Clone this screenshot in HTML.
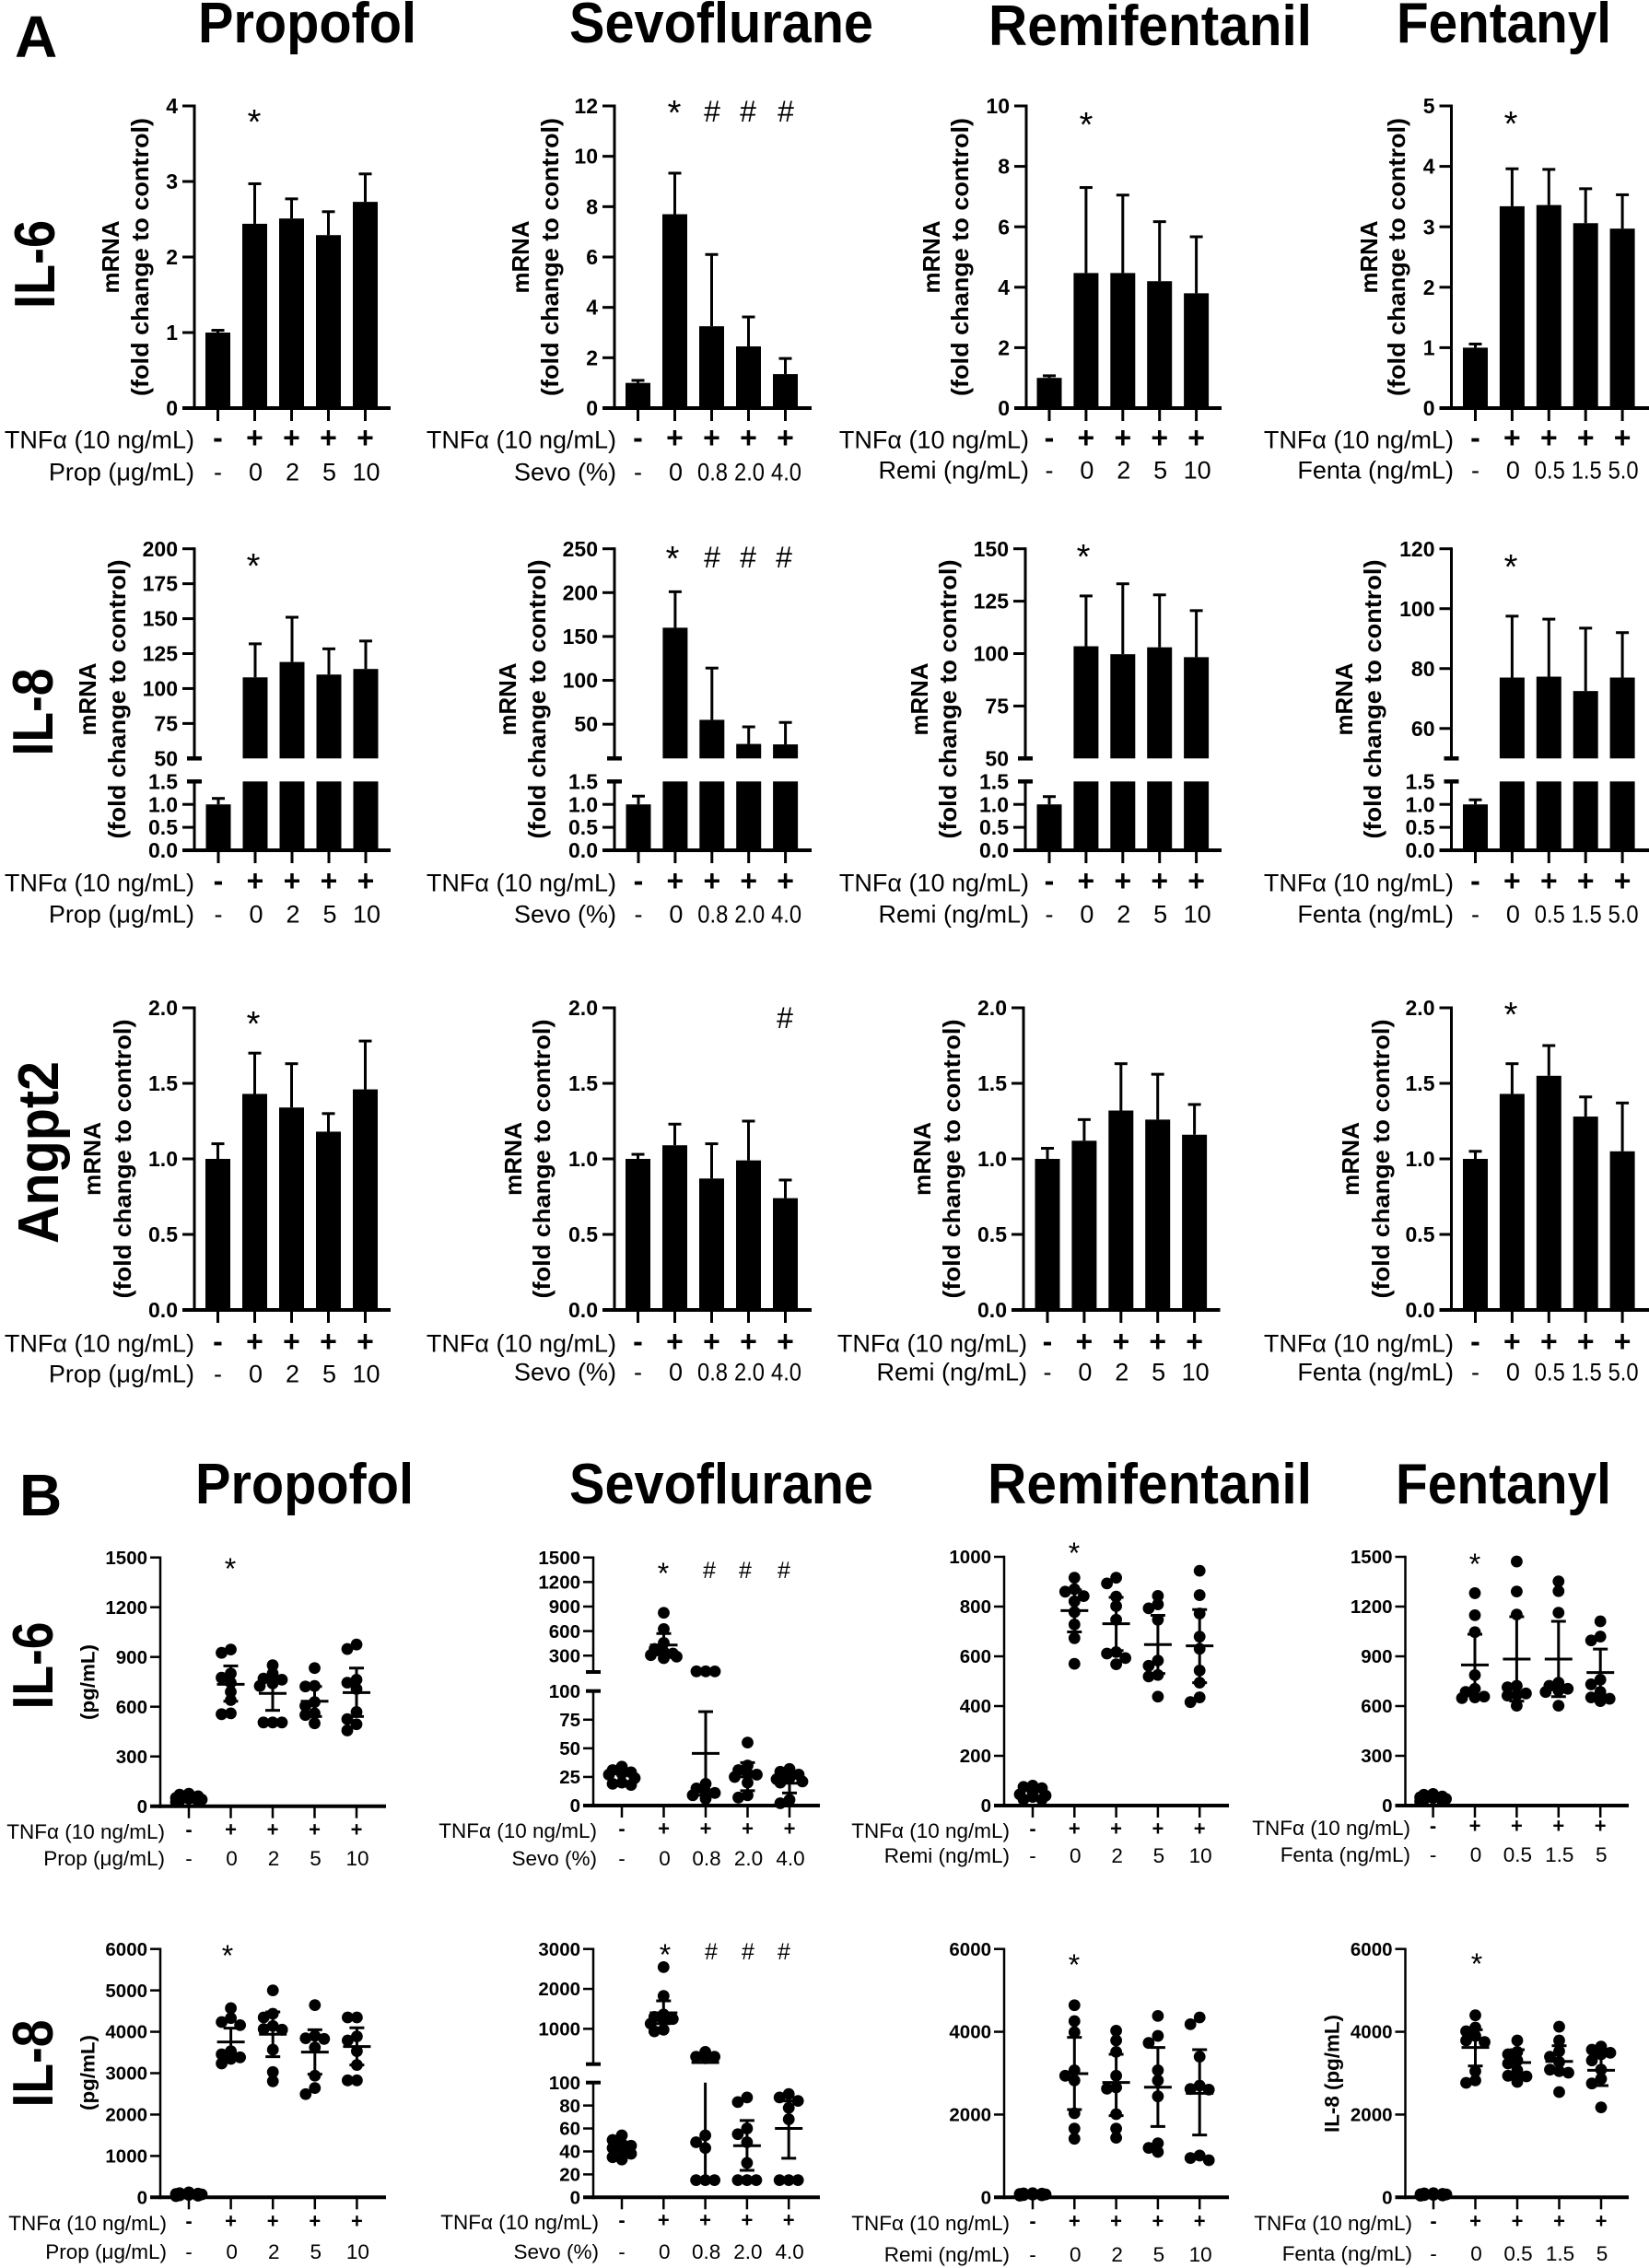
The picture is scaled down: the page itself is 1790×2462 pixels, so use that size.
<!DOCTYPE html>
<html lang="en">
<head>
<meta charset="utf-8">
<title>Anesthetics and TNF-alpha cytokine response</title>
<style>
html,body{margin:0;padding:0;background:#fff;}
svg{display:block;}
text{font-family:"Liberation Sans",sans-serif;fill:#000;}
.bold{font-weight:700;}
</style>
</head>
<body>
<svg id="figure" width="1790" height="2462" viewBox="0 0 1790 2462" xmlns="http://www.w3.org/2000/svg">
<rect width="1790" height="2462" fill="#fff"/>
<text class="bold" x="16" y="62" font-size="64">A</text>
<text class="bold" x="21" y="1645" font-size="64">B</text>
<text class="bold" x="215" y="46" font-size="62" textLength="237" lengthAdjust="spacingAndGlyphs">Propofol</text>
<text class="bold" x="618" y="46" font-size="62" textLength="330" lengthAdjust="spacingAndGlyphs">Sevoflurane</text>
<text class="bold" x="1073" y="49" font-size="62" textLength="351" lengthAdjust="spacingAndGlyphs">Remifentanil</text>
<text class="bold" x="1516" y="46" font-size="62" textLength="233" lengthAdjust="spacingAndGlyphs">Fentanyl</text>
<text class="bold" x="212" y="1632" font-size="62" textLength="237" lengthAdjust="spacingAndGlyphs">Propofol</text>
<text class="bold" x="618" y="1632" font-size="62" textLength="330" lengthAdjust="spacingAndGlyphs">Sevoflurane</text>
<text class="bold" x="1072" y="1632" font-size="62" textLength="352" lengthAdjust="spacingAndGlyphs">Remifentanil</text>
<text class="bold" x="1515" y="1632" font-size="62" textLength="234" lengthAdjust="spacingAndGlyphs">Fentanyl</text>
<text class="bold" font-size="62" text-anchor="middle" textLength="96" lengthAdjust="spacingAndGlyphs" transform="translate(59 287) rotate(-90)">IL-6</text>
<text class="bold" font-size="62" text-anchor="middle" textLength="95" lengthAdjust="spacingAndGlyphs" transform="translate(57 773) rotate(-90)">IL-8</text>
<text class="bold" font-size="62" text-anchor="middle" textLength="198" lengthAdjust="spacingAndGlyphs" transform="translate(63 1251) rotate(-90)">Angpt2</text>
<text class="bold" font-size="62" text-anchor="middle" textLength="95" lengthAdjust="spacingAndGlyphs" transform="translate(57 1808) rotate(-90)">IL-6</text>
<text class="bold" font-size="62" text-anchor="middle" textLength="95" lengthAdjust="spacingAndGlyphs" transform="translate(57 2240) rotate(-90)">IL-8</text>
</svg>
<script>
/* ---------- shared category labels ---------- */
const treatSigns = ['-', '+', '+', '+', '+'];
const propDoses = ['-', '0', '2', '5', '10'];
const sevoDoses = ['-', '0', '0.8', '2.0', '4.0'];
const remiDoses = ['-', '0', '2', '5', '10'];
const fentaDosesA = ['-', '0', '0.5', '1.5', '5.0'];
const fentaDosesB = ['-', '0', '0.5', '1.5', '5'];

/* ---------- panel A, IL-6 mRNA ---------- */
const aIl6PropTicks = [0, 1, 2, 3, 4];
const aIl6PropMeans = [1, 2.44, 2.51, 2.29, 2.73];
const aIl6PropTops = [1.03, 2.97, 2.77, 2.60, 3.10];
const aIl6SevoTicks = [0, 2, 4, 6, 8, 10, 12];
const aIl6SevoMeans = [1, 7.7, 3.25, 2.45, 1.35];
const aIl6SevoTops = [1.1, 9.33, 6.1, 3.62, 1.97];
const aIl6RemiTicks = [0, 2, 4, 6, 8, 10];
const aIl6RemiMeans = [1, 4.47, 4.47, 4.2, 3.8];
const aIl6RemiTops = [1.07, 7.3, 7.05, 6.17, 5.67];
const aIl6FentaTicks = [0, 1, 2, 3, 4, 5];
const aIl6FentaMeans = [1, 3.34, 3.36, 3.06, 2.97];
const aIl6FentaTops = [1.06, 3.96, 3.95, 3.63, 3.53];

/* ---------- panel A, IL-8 mRNA (broken axes) ---------- */
const aIl8LowerTicks = [0, 0.5, 1, 1.5];
const aIl8PropUpperTicks = [50, 75, 100, 125, 150, 175, 200];
const aIl8PropMeans = [1, 108, 119, 110, 114];
const aIl8PropTops = [1.13, 132, 151, 128.4, 134];
const aIl8SevoUpperTicks = [50, 100, 150, 200, 250];
const aIl8SevoMeans = [1, 160, 55, 27.5, 27];
const aIl8SevoTops = [1.18, 201, 114, 47, 52];
const aIl8RemiUpperTicks = [50, 75, 100, 125, 150];
const aIl8RemiMeans = [1, 103.5, 99.7, 103, 98.3];
const aIl8RemiTops = [1.17, 127.5, 133.3, 128, 120.5];
const aIl8FentaUpperTicks = [60, 80, 100, 120];
const aIl8FentaMeans = [1, 77, 77.3, 72.5, 77];
const aIl8FentaTops = [1.1, 97.5, 96.5, 93.5, 92];

/* ---------- panel A, Angpt2 mRNA ---------- */
const aAngTicks = [0, 0.5, 1, 1.5, 2];
const aAngPropMeans = [1, 1.43, 1.34, 1.18, 1.46];
const aAngPropTops = [1.10, 1.70, 1.63, 1.30, 1.78];
const aAngSevoMeans = [1, 1.09, 0.87, 0.99, 0.74];
const aAngSevoTops = [1.03, 1.23, 1.10, 1.25, 0.86];
const aAngRemiMeans = [1, 1.12, 1.32, 1.26, 1.16];
const aAngRemiTops = [1.07, 1.26, 1.63, 1.56, 1.36];
const aAngFentaMeans = [1, 1.43, 1.55, 1.28, 1.05];
const aAngFentaTops = [1.05, 1.63, 1.75, 1.41, 1.37];

/* ---------- panel B, IL-6 protein ---------- */
const bIl6Ticks1500 = [0, 300, 600, 900, 1200, 1500];
const bIl6PropCtrl = [75, 70, 60, 50, 45, 40, 35, 30, 25];
const bIl6PropG0 = [945, 925, 800, 775, 745, 690, 640, 560, 555];
const bIl6PropG2 = [850, 800, 770, 763, 740, 725, 505, 505, 505];
const bIl6PropG5 = [833, 725, 722, 628, 605, 560, 550, 500];
const bIl6PropG10 = [975, 948, 763, 745, 707, 568, 525, 494, 457];
const bIl6PropMeans = [null, 735, 680, 633, 685];
const bIl6PropUppers = [null, 846, 780, 722, 833];
const bIl6PropLowers = [null, 633, 578, 541, 541];

const bIl6SevoLowerTicks = [0, 25, 50, 75, 100];
const bIl6SevoUpperTicks = [300, 600, 900, 1200, 1500];
const bIl6SevoCtrl = [34, 31, 29, 28, 27, 24, 20, 19, 18];
const bIl6SevoG0 = [824, 625, 456, 381, 344, 325, 306, 287, 269];
const bIl6SevoG08 = [108, 108, 107, 19, 15, 12, 11, 9, 6];
const bIl6SevoG20 = [55, 35, 31, 28, 27, 25, 20, 9, 7];
const bIl6SevoG40 = [32, 29.5, 27, 24, 23, 21, 20, 5, 2];
const bIl6SevoMeans = [null, 430, 45.6, 25, 19.5];
const bIl6SevoUppers = [null, 570, 82, 37.5, 25];
const bIl6SevoLowers = [null, 310, 9, 13, 11];

const bIl6RemiTicks = [0, 200, 400, 600, 800, 1000];
const bIl6RemiCtrl = [80, 75, 70, 55, 45, 40, 35, 25, 25];
const bIl6RemiG0 = [916, 870, 860, 842, 821, 778, 728, 673, 570];
const bIl6RemiG2 = [916, 893, 840, 802, 747, 617, 611, 593, 568];
const bIl6RemiG5 = [843, 809, 793, 747, 583, 562, 525, 519, 438];
const bIl6RemiG10 = [944, 846, 772, 679, 630, 543, 494, 435, 416];
const bIl6RemiMeans = [null, 784, 731, 647, 642];
const bIl6RemiUppers = [null, 867, 837, 765, 788];
const bIl6RemiLowers = [null, 698, 623, 531, 494];

const bIl6FentaCtrl = [70, 65, 55, 50, 45, 40, 35, 30, 25];
const bIl6FentaG0 = [1281, 1148, 1046, 787, 704, 685, 657, 652, 648];
const bIl6FentaG05 = [1472, 1291, 1152, 722, 713, 676, 667, 663, 602];
const bIl6FentaG15 = [1352, 1293, 1163, 741, 722, 704, 694, 685, 602];
const bIl6FentaG5 = [1111, 1019, 996, 759, 731, 685, 652, 644, 630];
const bIl6FentaMeans = [null, 848, 883, 883, 802];
const bIl6FentaUppers = [null, 1033, 1139, 1111, 944];
const bIl6FentaLowers = [null, 667, 630, 657, 657];

/* ---------- panel B, IL-8 protein ---------- */
const bIl8PropTicks = [0, 1000, 2000, 3000, 4000, 5000, 6000];
const bIl8PropCtrl = [120, 100, 90, 80, 70, 60, 50, 40, 30];
const bIl8PropG0 = [4570, 4330, 4235, 4160, 3530, 3457, 3383, 3346, 3235];
const bIl8PropG2 = [5000, 4436, 4347, 4140, 4065, 4050, 3568, 3027, 2804];
const bIl8PropG5 = [4644, 3902, 3843, 3828, 3620, 2938, 2641, 2493];
const bIl8PropG10 = [4347, 4347, 3887, 3790, 3531, 3197, 2826, 2826];
const bIl8PropMeans = [null, 3754, 3939, 3509, 3642];
const bIl8PropUppers = [null, 4087, 4480, 4050, 4095];
const bIl8PropLowers = [null, 3420, 3398, 2975, 3197];

const bIl8SevoLowerTicks = [0, 20, 40, 60, 80, 100];
const bIl8SevoUpperTicks = [1000, 2000, 3000];
const bIl8SevoCtrl = [54, 50, 47, 45, 43, 41, 38, 35, 33];
const bIl8SevoG0 = [2546, 1823, 1360, 1300, 1246, 1208, 1130, 977, 938];
const bIl8SevoG08 = [423, 300, 300, 285, 54, 48, 43, 15, 15, 15];
const bIl8SevoG20 = [87, 83, 60, 55, 48, 30, 15, 15, 15];
const bIl8SevoG40 = [90, 87, 84, 78, 68, 15, 15, 15];
const bIl8SevoMeans = [null, 1400, 154, 45, 60];
const bIl8SevoUppers = [null, 1700, 300, 67, 84];
const bIl8SevoLowers = [null, 1130, 15, 23.5, 34];

const bIl8Ticks6000 = [0, 2000, 4000, 6000];
const bIl8RemiCtrl = [100, 95, 90, 80, 70, 65, 55, 50, 40];
const bIl8RemiG0 = [4642, 4257, 3990, 3070, 2937, 2825, 2032, 1661, 1416];
const bIl8RemiG2 = [4027, 3790, 3515, 2937, 2655, 2625, 2010, 1661, 1439];
const bIl8RemiG5 = [4383, 3900, 3730, 3070, 2825, 2440, 1305, 1194, 1097];
const bIl8RemiG10 = [4346, 4183, 3397, 2700, 2618, 2603, 1009, 949, 897];
const bIl8RemiMeans = [null, 2989, 2774, 2662, 2514];
const bIl8RemiUppers = [null, 3864, 3456, 3619, 3567];
const bIl8RemiLowers = [null, 2121, 1973, 1713, 1505];

const bIl8FentaCtrl = [100, 95, 85, 75, 70, 60, 55, 45, 40];
const bIl8FentaG0 = [4398, 4101, 4012, 3900, 3790, 3752, 3048, 2825, 2766];
const bIl8FentaG05 = [3790, 3515, 3456, 3307, 3233, 3070, 2937, 2922, 2788];
const bIl8FentaG15 = [4123, 3790, 3530, 3397, 3270, 3085, 3048, 3011, 2544];
const bIl8FentaG5 = [3641, 3567, 3493, 3456, 3307, 3085, 2862, 2751, 2173];
const bIl8FentaMeans = [null, 3619, 3255, 3285, 3070];
const bIl8FentaUppers = [null, 4049, 3567, 3663, 3441];
const bIl8FentaLowers = [null, 3174, 2937, 3011, 2700];

/* ---------- drawing helpers ---------- */
const NS = 'http://www.w3.org/2000/svg';
const figure = document.getElementById('figure');
function mk(tag, attrs, parent) {
  const el = document.createElementNS(NS, tag);
  for (const k in attrs) el.setAttribute(k, attrs[k]);
  parent.appendChild(el);
  return el;
}
function ln(parent, x1, y1, x2, y2, w) {
  return mk('line', {x1: x1, y1: y1, x2: x2, y2: y2, stroke: '#000', 'stroke-width': w}, parent);
}
function txt(parent, x, yc, str, size, anchor, bold) {
  const el = mk('text', {x: x, y: yc + size * 0.35, 'font-size': size, 'text-anchor': anchor}, parent);
  if (bold) el.setAttribute('font-weight', '700');
  el.textContent = str;
  return el;
}
function vtxt(parent, xc, yc, str, size, len) {
  const el = mk('text', {'font-size': size, 'font-weight': '700', 'text-anchor': 'middle', textLength: len, lengthAdjust: 'spacingAndGlyphs', transform: 'translate(' + (xc + size * 0.35) + ' ' + yc + ') rotate(-90)'}, parent);
  el.textContent = str;
  return el;
}
/* piecewise-linear y axis: segs are ordered bottom to top */
function yScale(segs) {
  return function (v) {
    let s = segs[segs.length - 1];
    for (const c of segs) { if (v <= c.max) { s = c; break; } }
    const t = (v - s.min) / (s.max - s.min);
    return s.bottom + t * (s.top - s.bottom);
  };
}
function drawYAxis(g, p, y, st) {
  const broken = p.segs.length > 1;
  p.segs.forEach(function (s, si) {
    const axisLine = ln(g, p.ax, s.bottom + (si === 0 ? st.xw / 2 : 0), p.ax, s.top - st.yw / 2, st.yw);
    
    
    s.ticks.forEach(function (v) {
      const isBreak = broken && (v === s.max && si === 0 || v === s.min && si > 0);
      const tk = isBreak ? ln(g, p.ax - 8, y(v), p.ax + 8, y(v), st.yw + 1.5) : ln(g, p.ax - st.tick, y(v), p.ax, y(v), st.yw);
      
      
      const lb = txt(g, p.ax - st.tick - st.gap, y(v), v.toFixed(s.dec || 0), st.tickFont, 'end', true);
      
      
    });
    if (broken && si > 0 && s.ticks.indexOf(s.min) < 0) {
      const bt = ln(g, p.ax - 8, s.bottom, p.ax + 8, s.bottom, st.yw + 1.5);
      
      
    }
  });
}
function drawXAxis(g, p, st) {
  const y0 = p.segs[0].bottom;
  const xl = ln(g, p.ax - st.tick, y0, p.end, y0, st.xw);
  
  
  treatSigns.forEach(function (sign, i) {
    const x = p.x0 + i * p.dx;
    const tk = ln(g, x, y0, x, y0 + st.xtick, st.yw);
    
    
    const sg = txt(g, x, p.rows[0] - 2, sign, st.signFont, 'middle', true);
    
    
    const ds = txt(g, x + (i ? 1 : 0), p.rows[1], p.doses[i], st.labelFont, 'middle', false);
    
    
    if (st.doseLen && p.doses[i].length === 3) {
      ds.setAttribute('textLength', st.doseLen);
      ds.setAttribute('lengthAdjust', 'spacingAndGlyphs');
    }
  });
  const a = txt(g, p.labelRight, p.rows[0], 'TNFα (10 ng/mL)', st.labelFont, 'end', false);
  
  
  const b = txt(g, p.labelRight, p.rows[1], p.doseTitle, st.labelFont, 'end', false);
  
  
}
function drawMarks(g, p, big) {
  (p.stars || []).forEach(function (m) {
    const isStar = m[2] === '*';
    const fs = isStar ? (big ? 38 : 32) : (big ? 32 : 25);
    const el = mk('text', {x: m[0], y: m[1] + fs * (isStar ? 0.53 : 0.35), 'font-size': fs, 'text-anchor': 'middle'}, g);
    el.textContent = m[2];
    
    
  });
}
const barStyle = {yw: 3, xw: 4, tick: 13, gap: 5, xtick: 14, tickFont: 23, signFont: 32, labelFont: 27, doseLen: 33};
const dotStyle = {yw: 2.5, xw: 4, tick: 11, gap: 3, xtick: 13, tickFont: 20.5, signFont: 22, labelFont: 22.5};

function drawBarPanel(p) {
  const g = mk('g', {}, figure);
  
  
  const y = yScale(p.segs);
  p.means.forEach(function (v, i) {
    const x = p.x0 + i * p.dx;
    p.segs.forEach(function (s) {
      if (v <= s.min && s.min > 0) return;
      const tp = y(Math.min(v, s.max));
      const bar = mk('rect', {x: x - 13.5, y: tp, width: 27, height: s.bottom - tp, fill: '#000'}, g);
      
      
    });
    const e = ln(g, x, y(v), x, y(p.tops[i]), 3);
    
    
    const cap = ln(g, x - 7, y(p.tops[i]), x + 7, y(p.tops[i]), 3);
    
    
  });
  drawYAxis(g, p, y, barStyle);
  drawXAxis(g, p, barStyle);
  p.ylabels.forEach(function (l) {
    const el = vtxt(g, l[0], l[1], l[2], 26, l[3]);
    
    
  });
  drawMarks(g, p, true);
}

/* places each value's dot at the nearest free horizontal slot */
function swarm(values, y) {
  const slots = [0, -10, 10, -14, 14];
  const placed = [];
  values.slice().sort(function (a, b) { return b - a; }).forEach(function (v) {
    const py = y(v);
    let best = 0, bestD = -1;
    for (const dx of slots) {
      let d = 1e9;
      for (const q of placed) d = Math.min(d, Math.hypot(q.dx - dx, q.py - py));
      if (d > bestD) { bestD = d; best = dx; }
      if (d >= 8.5) { best = dx; break; }
    }
    placed.push({dx: best, py: py});
  });
  return placed;
}
function drawDotPanel(p) {
  const g = mk('g', {}, figure);
  
  
  const y = yScale(p.segs);
  p.dots.forEach(function (vals, i) {
    const x = p.x0 + i * p.dx;
    swarm(vals, y).forEach(function (q) {
      const c = mk('circle', {cx: x + q.dx, cy: q.py, r: 6.4, fill: '#000'}, g);
      
      
    });
    if (p.means[i] === null) return;
    const lo = p.lowers[i], hi = p.uppers[i];
    p.segs.forEach(function (s) {
      const a = Math.max(lo, s.min), b = Math.min(hi, s.max);
      if (b <= a) return;
      const e = ln(g, x, y(a), x, y(b), 3);
      
      
    });
    const up = ln(g, x - 8, y(hi), x + 8, y(hi), 3);
    
    
    const dn = ln(g, x - 8, y(lo), x + 8, y(lo), 3);
    
    
    const m = ln(g, x - 15, y(p.means[i]), x + 15, y(p.means[i]), 3);
    
    
  });
  drawYAxis(g, p, y, dotStyle);
  drawXAxis(g, p, dotStyle);
  (p.ylabels || []).forEach(function (l) {
    const el = vtxt(g, l[0], l[1], l[2], l[4] || 21, l[3]);
    
    
  });
  drawMarks(g, p, false);
}

/* ---------- panel layouts ---------- */
const MR = 'mRNA', FC = '(fold change to control)';
function one(top, bottom, max, ticks, dec) {
  return [{min: 0, max: max, bottom: bottom, top: top, ticks: ticks, dec: dec || 0}];
}
function il8Segs(min, max, upTicks) {
  return [
    {min: 0, max: 1.5, bottom: 923, top: 848.3, ticks: aIl8LowerTicks, dec: 1},
    {min: min, max: max, bottom: 823.3, top: 595.7, ticks: upTicks, dec: 0}
  ];
}
const columnsA = {
  prop: {ax: 211, end: 424, x0: 236.5, dx: 40, labelRight: 211, doses: propDoses, doseTitle: 'Prop (μg/mL)'},
  sevo: {ax: 667, end: 881, x0: 692.5, dx: 40, labelRight: 669, doses: sevoDoses, doseTitle: 'Sevo (%)'},
  remi: {ax: 1114, end: 1326, x0: 1139, dx: 39.9, labelRight: 1117, doses: remiDoses, doseTitle: 'Remi (ng/mL)'},
  fenta: {ax: 1575.5, end: 1790, x0: 1601.5, dx: 39.9, labelRight: 1578, doses: fentaDosesA, doseTitle: 'Fenta (ng/mL)'}
};
const barPanels = [
  Object.assign({}, columnsA.prop, {name: 'a-il6-propofol', segs: one(115, 443, 4, aIl6PropTicks), means: aIl6PropMeans, tops: aIl6PropTops, rows: [477, 512], ylabels: [[120, 279, MR, 79], [152, 279, FC, 302]], stars: [[276, 125, '*']]}),
  Object.assign({}, columnsA.sevo, {name: 'a-il6-sevoflurane', segs: one(115, 443, 12, aIl6SevoTicks), means: aIl6SevoMeans, tops: aIl6SevoTops, rows: [477, 512], ylabels: [[565, 279, MR, 79], [597, 279, FC, 302]], stars: [[732, 115, '*'], [773, 121, '#'], [812, 121, '#'], [853, 121, '#']]}),
  Object.assign({}, columnsA.remi, {name: 'a-il6-remifentanil', segs: one(115, 443, 10, aIl6RemiTicks), means: aIl6RemiMeans, tops: aIl6RemiTops, rows: [477, 510], ylabels: [[1011, 279, MR, 79], [1042, 279, FC, 302]], stars: [[1179, 128, '*']]}),
  Object.assign({}, columnsA.fenta, {name: 'a-il6-fentanyl', segs: one(115, 443, 5, aIl6FentaTicks), means: aIl6FentaMeans, tops: aIl6FentaTops, rows: [477, 510], ylabels: [[1486, 279, MR, 79], [1516, 279, FC, 302]], stars: [[1640, 127, '*']]}),

  Object.assign({}, columnsA.prop, {name: 'a-il8-propofol', x0: 237, segs: il8Segs(50, 200, aIl8PropUpperTicks), means: aIl8PropMeans, tops: aIl8PropTops, rows: [958, 992], ylabels: [[95, 759, MR, 79], [127, 759, FC, 303]], stars: [[275, 607, '*']]}),
  Object.assign({}, columnsA.sevo, {name: 'a-il8-sevoflurane', x0: 693, dx: 39.9, segs: il8Segs(11, 250, aIl8SevoUpperTicks), means: aIl8SevoMeans, tops: aIl8SevoTops, rows: [958, 992], ylabels: [[551, 759, MR, 79], [583, 759, FC, 303]], stars: [[730, 599, '*'], [773, 605, '#'], [812, 605, '#'], [851, 605, '#']]}),
  Object.assign({}, columnsA.remi, {name: 'a-il8-remifentanil', ax: 1113, segs: il8Segs(50, 150, aIl8RemiUpperTicks), means: aIl8RemiMeans, tops: aIl8RemiTops, rows: [958, 992], ylabels: [[998, 759, MR, 79], [1029, 759, FC, 303]], stars: [[1176, 597, '*']]}),
  Object.assign({}, columnsA.fenta, {name: 'a-il8-fentanyl', segs: il8Segs(50, 120, aIl8FentaUpperTicks), means: aIl8FentaMeans, tops: aIl8FentaTops, rows: [958, 992], ylabels: [[1459, 759, MR, 79], [1490, 759, FC, 303]], stars: [[1640, 608, '*']]}),

  Object.assign({}, columnsA.prop, {name: 'a-angpt2-propofol', segs: one(1094, 1422, 2, aAngTicks, 1), means: aAngPropMeans, tops: aAngPropTops, rows: [1458, 1491], ylabels: [[100, 1258, MR, 80], [133, 1258, FC, 303]], stars: [[275, 1104, '*']]}),
  Object.assign({}, columnsA.sevo, {name: 'a-angpt2-sevoflurane', segs: one(1094, 1422, 2, aAngTicks, 1), means: aAngSevoMeans, tops: aAngSevoTops, rows: [1458, 1489], ylabels: [[557, 1258, MR, 80], [588, 1258, FC, 303]], stars: [[852, 1105, '#']]}),
  Object.assign({}, columnsA.remi, {name: 'a-angpt2-remifentanil', ax: 1111, end: 1324.5, x0: 1137, labelRight: 1115, segs: one(1094, 1422, 2, aAngTicks, 1), means: aAngRemiMeans, tops: aAngRemiTops, rows: [1458, 1489], ylabels: [[1001, 1258, MR, 80], [1033, 1258, FC, 303]], stars: []}),
  Object.assign({}, columnsA.fenta, {name: 'a-angpt2-fentanyl', segs: one(1094, 1422, 2, aAngTicks, 1), means: aAngFentaMeans, tops: aAngFentaTops, rows: [1458, 1489], ylabels: [[1466, 1258, MR, 80], [1499, 1258, FC, 303]], stars: [[1640, 1094, '*']]})
];

const PG = '(pg/mL)';
const dotPanels = [
  {name: 'b-il6-propofol', ax: 174, end: 419, x0: 205, dx: 45.5, labelRight: 179, doses: propDoses, doseTitle: 'Prop (μg/mL)', segs: one(1690.7, 1960.7, 1500, bIl6Ticks1500), dots: [bIl6PropCtrl, bIl6PropG0, bIl6PropG2, bIl6PropG5, bIl6PropG10], means: bIl6PropMeans, uppers: bIl6PropUppers, lowers: bIl6PropLowers, rows: [1988, 2017], ylabels: [[95, 1826, PG, 82]], stars: [[250, 1697, '*']]},
  {name: 'b-il6-sevoflurane', ax: 644, end: 890, x0: 675, dx: 45.5, labelRight: 648, doses: sevoDoses, doseTitle: 'Sevo (%)', segs: [{min: 0, max: 100, bottom: 1960, top: 1835.7, ticks: bIl6SevoLowerTicks}, {min: 100, max: 1500, bottom: 1815, top: 1690.7, ticks: bIl6SevoUpperTicks}], dots: [bIl6SevoCtrl, bIl6SevoG0, bIl6SevoG08, bIl6SevoG20, bIl6SevoG40], means: bIl6SevoMeans, uppers: bIl6SevoUppers, lowers: bIl6SevoLowers, rows: [1987, 2017], stars: [[720, 1702, '*'], [770, 1704, '#'], [809, 1704, '#'], [851, 1704, '#']]},
  {name: 'b-il6-remifentanil', ax: 1090, end: 1334, x0: 1121, dx: 45.3, labelRight: 1096, doses: remiDoses, doseTitle: 'Remi (ng/mL)', segs: one(1690, 1960, 1000, bIl6RemiTicks), dots: [bIl6RemiCtrl, bIl6RemiG0, bIl6RemiG2, bIl6RemiG5, bIl6RemiG10], means: bIl6RemiMeans, uppers: bIl6RemiUppers, lowers: bIl6RemiLowers, rows: [1987, 2014], stars: [[1166, 1680, '*']]},
  {name: 'b-il6-fentanyl', ax: 1525.5, end: 1768, x0: 1555.6, dx: 45.4, labelRight: 1531, doses: fentaDosesB, doseTitle: 'Fenta (ng/mL)', segs: one(1690, 1960, 1500, bIl6Ticks1500), dots: [bIl6FentaCtrl, bIl6FentaG0, bIl6FentaG05, bIl6FentaG15, bIl6FentaG5], means: bIl6FentaMeans, uppers: bIl6FentaUppers, lowers: bIl6FentaLowers, rows: [1984, 2013], stars: [[1601, 1692, '*']]},

  {name: 'b-il8-propofol', ax: 174, end: 419, x0: 205, dx: 45.6, labelRight: 181, doses: propDoses, doseTitle: 'Prop (μg/mL)', segs: one(2115.7, 2385.3, 6000, bIl8PropTicks), dots: [bIl8PropCtrl, bIl8PropG0, bIl8PropG2, bIl8PropG5, bIl8PropG10], means: bIl8PropMeans, uppers: bIl8PropUppers, lowers: bIl8PropLowers, rows: [2413, 2444], ylabels: [[95, 2250, PG, 82]], stars: [[247, 2117, '*']]},
  {name: 'b-il8-sevoflurane', ax: 644, end: 890, x0: 675, dx: 45.3, labelRight: 650, doses: sevoDoses, doseTitle: 'Sevo (%)', segs: [{min: 0, max: 100, bottom: 2385.3, top: 2260.7, ticks: bIl8SevoLowerTicks}, {min: 115, max: 3000, bottom: 2240.7, top: 2115.7, ticks: bIl8SevoUpperTicks}], dots: [bIl8SevoCtrl, bIl8SevoG0, bIl8SevoG08, bIl8SevoG20, bIl8SevoG40], means: bIl8SevoMeans, uppers: bIl8SevoUppers, lowers: bIl8SevoLowers, rows: [2412, 2444], stars: [[722, 2116, '*'], [772, 2118, '#'], [812, 2118, '#'], [851, 2118, '#']]},
  {name: 'b-il8-remifentanil', ax: 1090, end: 1334, x0: 1121, dx: 45.3, labelRight: 1096, doses: remiDoses, doseTitle: 'Remi (ng/mL)', segs: one(2115.7, 2385.3, 6000, bIl8Ticks6000), dots: [bIl8RemiCtrl, bIl8RemiG0, bIl8RemiG2, bIl8RemiG5, bIl8RemiG10], means: bIl8RemiMeans, uppers: bIl8RemiUppers, lowers: bIl8RemiLowers, rows: [2413, 2447], stars: [[1166, 2127, '*']]},
  {name: 'b-il8-fentanyl', ax: 1525.5, end: 1768, x0: 1556, dx: 45.5, labelRight: 1533, doses: fentaDosesB, doseTitle: 'Fenta (ng/mL)', segs: one(2115.7, 2385.3, 6000, bIl8Ticks6000), dots: [bIl8FentaCtrl, bIl8FentaG0, bIl8FentaG05, bIl8FentaG15, bIl8FentaG5], means: bIl8FentaMeans, uppers: bIl8FentaUppers, lowers: bIl8FentaLowers, rows: [2413, 2446], ylabels: [[1446, 2251, 'IL-8  (pg/mL)', 128, 22]], stars: [[1603, 2126, '*']]}
];

barPanels.forEach(drawBarPanel);
dotPanels.forEach(drawDotPanel);
</script>
</body>
</html>
